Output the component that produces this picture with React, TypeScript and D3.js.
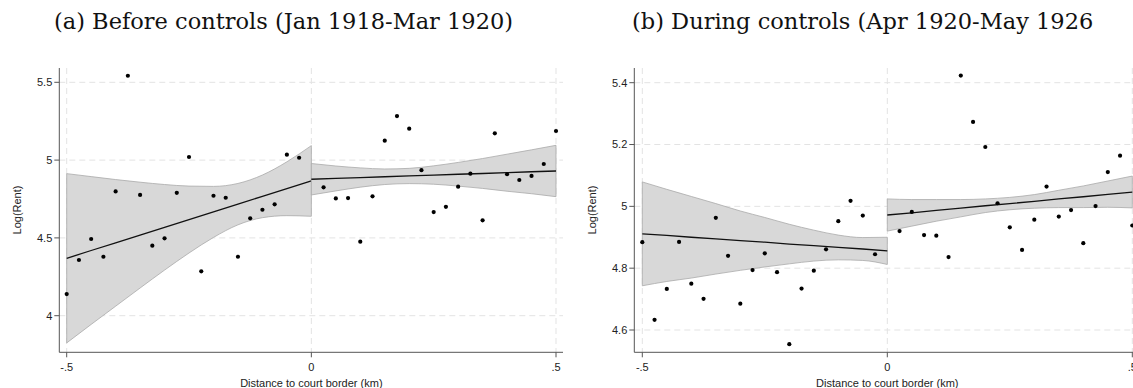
import React from "react";
import * as d3 from "d3";

// binned scatter: x bins (km from border)
const binsBefore = [-0.5, -0.475, -0.45, -0.425, -0.4, -0.375, -0.35, -0.325, -0.3, -0.275, -0.25, -0.225, -0.2, -0.175, -0.15, -0.125, -0.1, -0.075, -0.05, -0.025];
const binsAfter = [0.025, 0.05, 0.075, 0.1, 0.125, 0.15, 0.175, 0.2, 0.225, 0.25, 0.275, 0.3, 0.325, 0.35, 0.375, 0.4, 0.425, 0.45, 0.475, 0.5];

// panel (a) log rent per bin
const rentA_in = [4.139, 4.358, 4.493, 4.379, 4.799, 5.542, 4.776, 4.45, 4.497, 4.79, 5.02, 4.285, 4.771, 4.758, 4.379, 4.626, 4.681, 4.716, 5.035, 5.015];
const rentA_out = [4.825, 4.754, 4.756, 4.476, 4.767, 5.125, 5.283, 5.202, 4.935, 4.666, 4.7, 4.829, 4.913, 4.613, 5.172, 4.909, 4.872, 4.898, 4.975, 5.187];
// panel (b)
const rentB_in = [4.884, 4.633, 4.733, 4.885, 4.75, 4.701, 4.963, 4.84, 4.685, 4.794, 4.848, 4.787, 4.554, 4.734, 4.792, 4.861, 4.952, 5.018, 4.97, 4.845];
const rentB_out = [4.92, 4.982, 4.907, 4.905, 4.836, 5.423, 5.273, 5.192, 5.01, 4.932, 4.859, 4.957, 5.064, 4.967, 4.988, 4.881, 5.001, 5.111, 5.164, 4.938];

// fitted line + 95% CI, read at these x positions
const gridNeg = [-0.5, -0.45, -0.4, -0.35, -0.3, -0.25, -0.2, -0.15, -0.1, -0.05, 0];
const gridPos = [0, 0.05, 0.1, 0.15, 0.2, 0.25, 0.3, 0.35, 0.4, 0.45, 0.5];

const fitA_in = [4.369, 4.419, 4.468, 4.518, 4.568, 4.618, 4.667, 4.717, 4.767, 4.816, 4.866];
const hiA_in = [4.913, 4.894, 4.875, 4.858, 4.843, 4.833, 4.831, 4.85, 4.904, 4.989, 5.093];
const loA_in = [3.825, 3.944, 4.061, 4.178, 4.293, 4.403, 4.503, 4.584, 4.63, 4.643, 4.639];
const fitA_out = [4.877, 4.882, 4.888, 4.893, 4.898, 4.904, 4.909, 4.914, 4.919, 4.925, 4.93];
const hiA_out = [4.978, 4.962, 4.95, 4.943, 4.947, 4.963, 4.985, 5.01, 5.038, 5.066, 5.095];
const loA_out = [4.776, 4.802, 4.826, 4.843, 4.849, 4.845, 4.833, 4.818, 4.8, 4.784, 4.765];

const fitB_in = [4.911, 4.906, 4.9, 4.895, 4.889, 4.884, 4.878, 4.873, 4.867, 4.862, 4.856];
const hiB_in = [5.079, 5.055, 5.032, 5.009, 4.985, 4.964, 4.942, 4.923, 4.907, 4.899, 4.9];
const loB_in = [4.743, 4.757, 4.768, 4.781, 4.793, 4.804, 4.814, 4.823, 4.827, 4.825, 4.812];
const fitB_out = [4.972, 4.979, 4.987, 4.994, 5.002, 5.009, 5.016, 5.024, 5.031, 5.039, 5.046];
const hiB_out = [5.024, 5.022, 5.022, 5.022, 5.024, 5.029, 5.038, 5.052, 5.066, 5.082, 5.098];
const loB_out = [4.92, 4.936, 4.952, 4.966, 4.98, 4.989, 4.994, 4.996, 4.996, 4.997, 4.995];

const xTicks = [-0.5, 0, 0.5];
const xTickLabels = ["-.5", "0", ".5"];
const yTicksA = [4, 4.5, 5, 5.5];
const yTicksB = [4.6, 4.8, 5, 5.2, 5.4];

const titleA = "(a) Before controls (Jan 1918-Mar 1920)";
const titleB = "(b) During controls (Apr 1920-May 1926";
const xTitle = "Distance to court border (km)";
const yTitle = "Log(Rent)";

const sans = "'Liberation Sans', Arial, sans-serif";
const serif = "'DejaVu Serif', serif";
const gridCol = "#e3e3e3";
const axisCol = "#555";

type Seg = { grid: number[]; fit: number[]; hi: number[]; lo: number[] };

function Panel(props: {
  left: number; right: number; xr: [number, number];
  yDom: [number, number]; yr: [number, number]; yTicks: number[];
  segs: Seg[]; pts: { x: number[]; y: number[] }[]; title: string; titleX: number;
}) {
  const { left, right, xr, yDom, yr, yTicks, segs, pts, title, titleX } = props;
  const top = 68, bottom = 352.3;
  const x = d3.scaleLinear().domain([-0.5, 0.5]).range(xr);
  const y = d3.scaleLinear().domain(yDom).range(yr);
  const fmt = (v: number) => String(+v.toFixed(1));
  return (
    <g>
      <text x={titleX} y={29} fontFamily={serif} fontSize={22.5} fill="#111">{title}</text>
      {/* grid */}
      {yTicks.map((t) => (
        <line key={"gy" + t} x1={left} x2={right} y1={y(t)} y2={y(t)} stroke={gridCol} strokeDasharray="6,4" />
      ))}
      {xTicks.map((t) => (
        <line key={"gx" + t} x1={x(t)} x2={x(t)} y1={top} y2={bottom} stroke={gridCol} strokeDasharray="6,4" />
      ))}
      {/* CI bands and fits */}
      {segs.map((s, k) => {
        const area = d3.area<number>()
          .x((_, i) => x(s.grid[i]))
          .y0((_, i) => y(s.lo[i]))
          .y1((_, i) => y(s.hi[i]))
          .curve(d3.curveMonotoneX);
        const ln = d3.line<number>()
          .x((_, i) => x(s.grid[i]))
          .y((_, i) => y(s.fit[i]));
        return (
          <g key={"s" + k}>
            <path d={area(s.grid) || ""} fill="#d8d8d8" stroke="#a9a9a9" strokeWidth={0.8} />
            <path d={ln(s.grid) || ""} fill="none" stroke="#111" strokeWidth={1.3} />
          </g>
        );
      })}
      {/* points */}
      {pts.map((p, k) =>
        p.x.map((xv, i) => (
          <circle key={k + "-" + i} cx={x(xv)} cy={y(p.y[i])} r={2.1} fill="#000" />
        ))
      )}
      {/* axes */}
      <line x1={left} x2={left} y1={top} y2={bottom} stroke={axisCol} strokeWidth={1} />
      <line x1={left} x2={right} y1={bottom} y2={bottom} stroke={axisCol} strokeWidth={1} />
      {yTicks.map((t) => (
        <g key={"ty" + t}>
          <line x1={left - 5} x2={left} y1={y(t)} y2={y(t)} stroke={axisCol} />
          <text x={left - 7} y={y(t)} dy="0.35em" textAnchor="end" fontFamily={sans} fontSize={11} fill="#222">
            {fmt(t)}
          </text>
        </g>
      ))}
      {xTicks.map((t, i) => (
        <g key={"tx" + t}>
          <line x1={x(t)} x2={x(t)} y1={bottom} y2={bottom + 5} stroke={axisCol} />
          <text x={x(t)} y={371} textAnchor="middle" fontFamily={sans} fontSize={11} fill="#222">
            {xTickLabels[i]}
          </text>
        </g>
      ))}
      <text x={x(0)} y={387} textAnchor="middle" fontFamily={sans} fontSize={11} fill="#222">{xTitle}</text>
      <text transform={`translate(${left - 38},210) rotate(-90)`} textAnchor="middle" fontFamily={sans} fontSize={11} fill="#222">
        {yTitle}
      </text>
    </g>
  );
}

export default function App() {
  return (
    <svg width={1133} height={388} style={{ position: "absolute", left: 0, top: 0, background: "#fff" }}>
      <rect width={1133} height={388} fill="#fff" />
      <Panel
        left={59.3} right={563} xr={[66.7, 556]} yDom={[4, 5.5]} yr={[315.7, 82.3]} yTicks={yTicksA}
        segs={[
          { grid: gridNeg, fit: fitA_in, hi: hiA_in, lo: loA_in },
          { grid: gridPos, fit: fitA_out, hi: hiA_out, lo: loA_out },
        ]}
        pts={[{ x: binsBefore, y: rentA_in }, { x: binsAfter, y: rentA_out }]}
        title={titleA} titleX={54}
      />
      <Panel
        left={634.3} right={1140} xr={[642.3, 1132.3]} yDom={[4.6, 5.4]} yr={[330, 82.7]} yTicks={yTicksB}
        segs={[
          { grid: gridNeg, fit: fitB_in, hi: hiB_in, lo: loB_in },
          { grid: gridPos, fit: fitB_out, hi: hiB_out, lo: loB_out },
        ]}
        pts={[{ x: binsBefore, y: rentB_in }, { x: binsAfter, y: rentB_out }]}
        title={titleB} titleX={632}
      />
    </svg>
  );
}
